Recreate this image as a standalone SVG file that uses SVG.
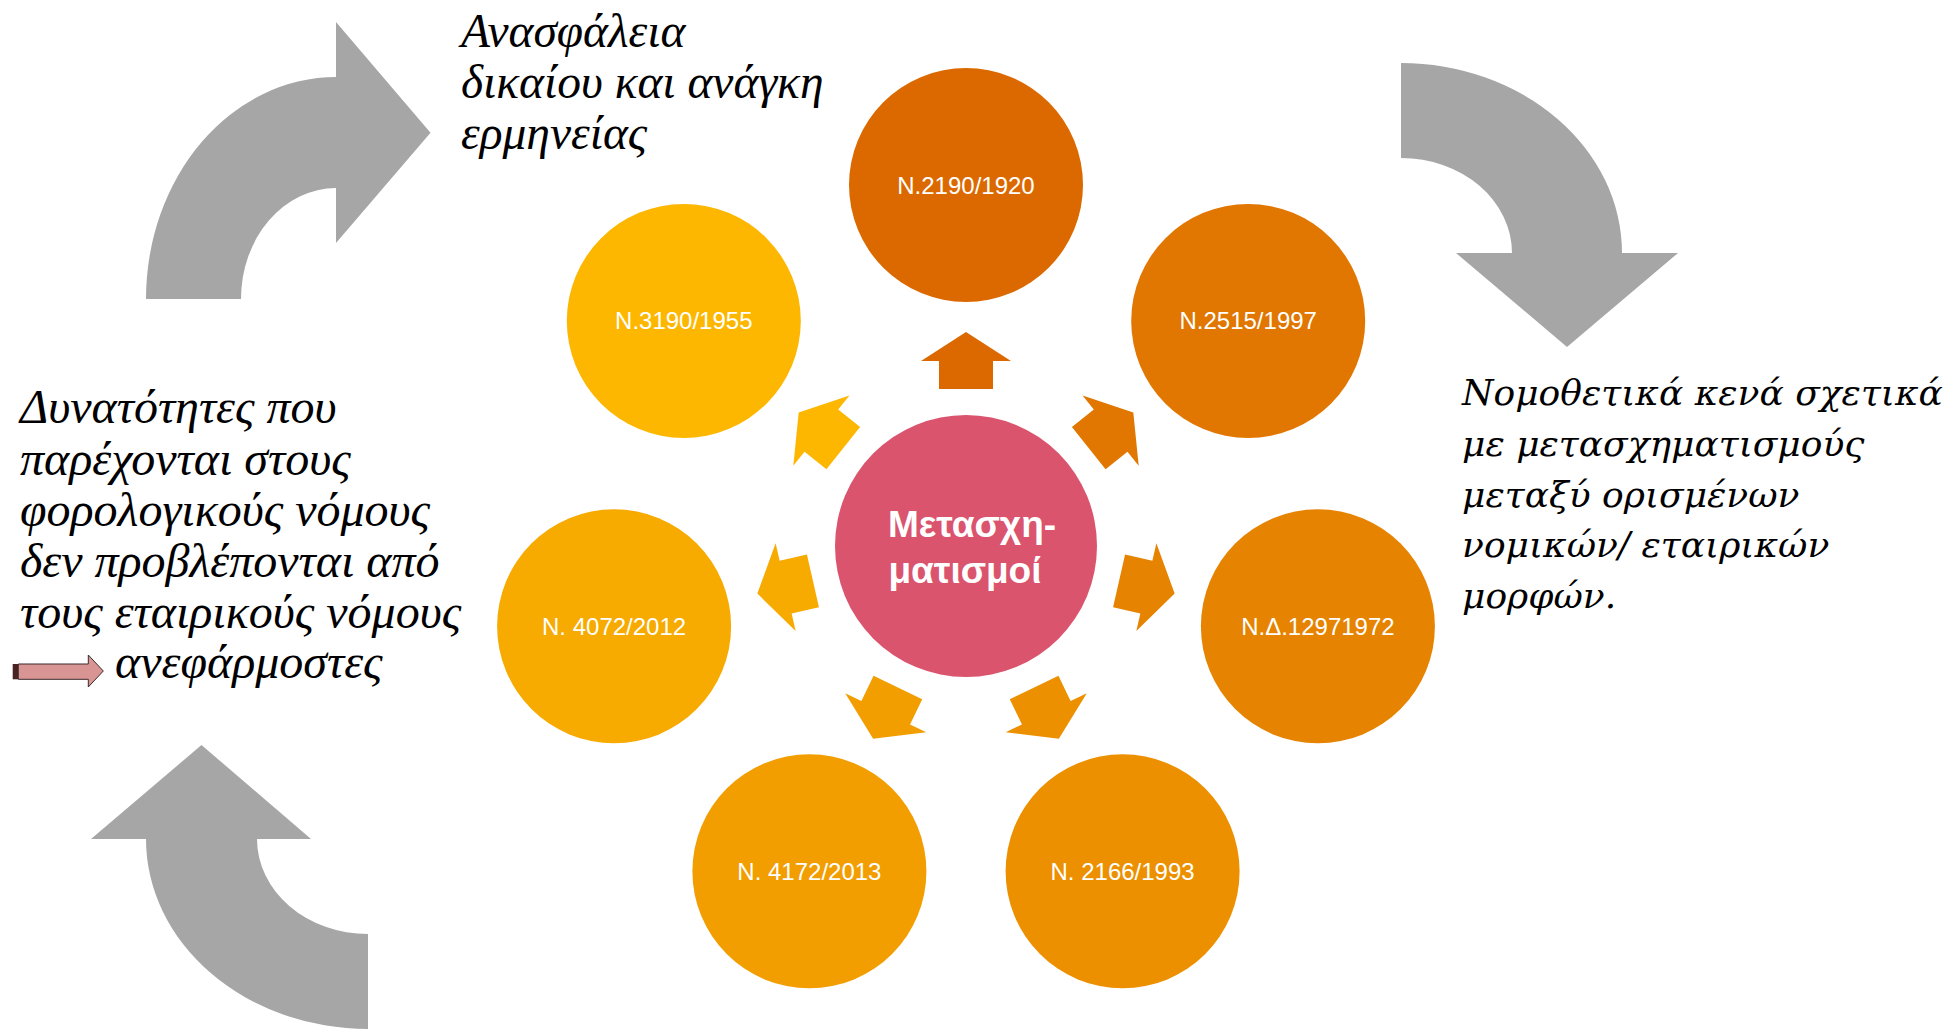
<svg xmlns="http://www.w3.org/2000/svg" width="1954" height="1029" viewBox="0 0 1954 1029">
<style>
.gray{fill:#A6A6A6}
.lbl{font-family:"Liberation Sans",Arial,sans-serif;font-size:24px;fill:#fff;text-anchor:middle}
.ctr{font-family:"Liberation Sans",Arial,sans-serif;font-size:37px;font-weight:bold;fill:#fff;text-anchor:middle}
.tt{font-family:"Liberation Serif","Times New Roman",serif;font-style:italic;font-size:47.5px;fill:#000}
.lt{font-family:"Liberation Serif","Times New Roman",serif;font-style:italic;font-size:48px;fill:#000}
.rt{font-family:"DejaVu Serif",serif;font-style:italic;font-size:36px;fill:#000}
</style>
<defs>
<polygon id="blk" points="966,332 1011,361 993,361 993,389 939,389 939,361 921,361"/>
</defs>
<rect width="1954" height="1029" fill="#fff"/>

<g id="curved-arrows">
<path id="arrow-top-left" class="gray" d="M146,299 A190 222 0 0 1 336,77 L336,22 L430.5,132.7 L336,243 L336,188 A95 111 0 0 0 241,299 Z"/>
<path id="arrow-top-right" class="gray" d="M1401,63 A221 190 0 0 1 1622,253 L1678,253 L1567,347 L1456,253 L1512,253 A111 95 0 0 0 1401,158 Z"/>
<path id="arrow-bottom-left" class="gray" d="M146,839 L91,839 L201.5,745 L311,839 L257,839 A111 95 0 0 0 368,934 L368,1029 A222 190 0 0 1 146,839 Z"/>
</g>

<g id="connectors">
<use href="#blk" fill="#DB6900"/>
<use href="#blk" fill="#E17600" transform="rotate(51.4286 966 546)"/>
<use href="#blk" fill="#E68300" transform="rotate(102.857 966 546)"/>
<use href="#blk" fill="#EC9000" transform="rotate(154.286 966 546)"/>
<use href="#blk" fill="#F29D00" transform="rotate(205.714 966 546)"/>
<use href="#blk" fill="#F7AA00" transform="rotate(257.143 966 546)"/>
<use href="#blk" fill="#FDB700" transform="rotate(308.571 966 546)"/>
</g>

<g id="node-center">
<circle cx="966" cy="546" r="131" fill="#DA546E"/>
<text class="ctr" x="972" y="537">Μετασχη-</text>
<text class="ctr" x="965" y="583">ματισμοί</text>
</g>
<g id="node-2190">
<circle cx="966" cy="185" r="117" fill="#DB6900"/>
<text class="lbl" x="966" y="193.5">N.2190/1920</text>
</g>
<g id="node-2515">
<circle cx="1248.2" cy="320.9" r="117" fill="#E17600"/>
<text class="lbl" x="1248.2" y="329.4">N.2515/1997</text>
</g>
<g id="node-1297">
<circle cx="1317.9" cy="626.3" r="117" fill="#E68300"/>
<text class="lbl" x="1317.9" y="634.8">N.Δ.12971972</text>
</g>
<g id="node-2166">
<circle cx="1122.6" cy="871.3" r="117" fill="#EC9000"/>
<text class="lbl" x="1122.6" y="879.8">N. 2166/1993</text>
</g>
<g id="node-4172">
<circle cx="809.4" cy="871.3" r="117" fill="#F29D00"/>
<text class="lbl" x="809.4" y="879.8">N. 4172/2013</text>
</g>
<g id="node-4072">
<circle cx="614.1" cy="626.3" r="117" fill="#F7AA00"/>
<text class="lbl" x="614.1" y="634.8">N. 4072/2012</text>
</g>
<g id="node-3190">
<circle cx="683.8" cy="320.9" r="117" fill="#FDB700"/>
<text class="lbl" x="683.8" y="329.4">N.3190/1955</text>
</g>

<g id="text-top">
<text class="tt" x="461" y="47">Ανασφάλεια</text>
<text class="tt" x="461" y="98">δικαίου και ανάγκη</text>
<text class="tt" x="461" y="149">ερμηνείας</text>
</g>

<g id="text-right">
<text class="rt" x="1462" y="405">Νομοθετικά κενά σχετικά</text>
<text class="rt" x="1462" y="456">με μετασχηματισμούς</text>
<text class="rt" x="1462" y="507">μεταξύ ορισμένων</text>
<text class="rt" x="1462" y="557">νομικών/ εταιρικών</text>
<text class="rt" x="1462" y="608">μορφών.</text>
</g>

<g id="text-left">
<text class="lt" x="20" y="423">Δυνατότητες που</text>
<text class="lt" x="20" y="475">παρέχονται στους</text>
<text class="lt" x="20" y="526">φορολογικούς νόμους</text>
<text class="lt" x="20" y="577">δεν προβλέπονται από</text>
<text class="lt" x="20" y="628">τους εταιρικούς νόμους</text>
<text class="lt" x="115" y="678">ανεφάρμοστες</text>
<g id="pink-arrow">
<rect x="12.7" y="664" width="5.6" height="15.3" fill="#4A2222"/>
<polygon points="18.3,664 88.3,664 88.3,655 103.3,671 88.3,687 88.3,679.3 18.3,679.3" fill="#D99594" stroke="#3A2A2A" stroke-width="1"/>
</g>
</g>
</svg>
